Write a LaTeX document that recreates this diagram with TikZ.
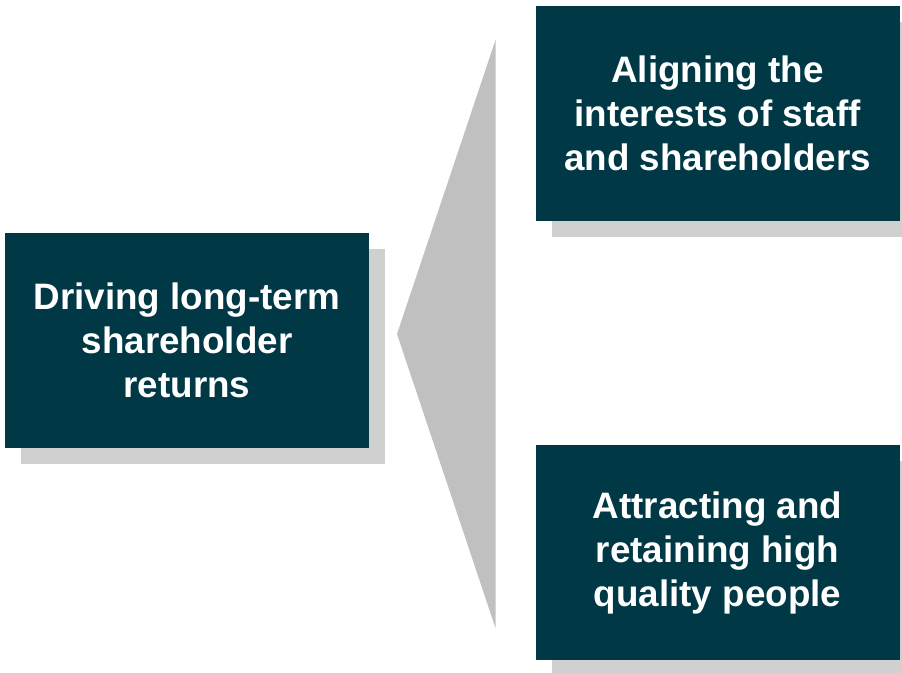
\documentclass[tikz,border=0pt]{standalone}
\usepackage{fontspec}
\setmainfont{Liberation Sans}
\usetikzlibrary{positioning,shadows}
\definecolor{boxteal}{RGB}{0,56,69}
\definecolor{shadowgray}{RGB}{208,208,208}
\definecolor{wedgegray}{RGB}{192,192,192}
\tikzstyle{GoalNode}=[rectangle, fill=boxteal, text=white, minimum width=364pt, minimum height=215pt, inner sep=0pt, align=center, font=\fontsize{36.8}{44}\selectfont\bfseries, drop shadow={shadow xshift=16pt, shadow yshift=-16pt, fill=shadowgray, opacity=1}]

\begin{document}
\begin{tikzpicture}[x=1pt, y=-1pt]
    \useasboundingbox (0,0) rectangle (902,672);

    % wedge between the main goal and the two aims
    \fill [wedgegray] (397,334) -- (495.5,40) -- (495.5,628) -- cycle;

    \node (goal) [GoalNode] at (187,340) {Driving long-term\\shareholder\\returns};
    \node (align) [GoalNode] at (717.5,113.5) {Aligning the\\interests of staff\\and shareholders};
    \node (attract) [GoalNode] at (717.5,552.5) {Attracting and\\retaining high\\quality people};
\end{tikzpicture}
\end{document}
